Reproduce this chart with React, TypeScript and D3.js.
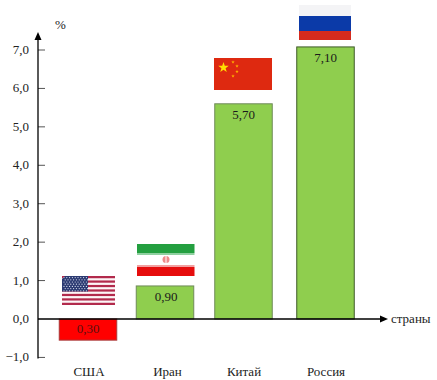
import React from "react";
import * as d3 from "d3";

const categories = ["США", "Иран", "Китай", "Россия"];
const barValues = [-0.55, 0.86, 5.6, 7.08];
const barLabels = ["0,30", "0,90", "5,70", "7,10"];
const tickValues = [-1, 0, 1, 2, 3, 4, 5, 6, 7];
const flagKinds = ["usa", "iran", "china", "russia"];

const W = 437, H = 380;
const y = d3.scaleLinear().domain([0, 7]).range([319, 50]);
const x = d3.scaleOrdinal<string, number>().domain(categories).range([88, 165, 243.5, 325.5]);
const barW = 57.5;
const axisX = 38;
const serif = "'Liberation Serif', serif";
const fmt = (v: number) => (v < 0 ? "−" : "") + Math.abs(v).toFixed(1).replace(".", ",");

function Star({ cx, cy, r, fill }: { cx: number; cy: number; r: number; fill: string }) {
  const pts = d3.range(10).map((i) => {
    const a = -Math.PI / 2 + (i * Math.PI) / 5;
    const rr = i % 2 ? r * 0.4 : r;
    return `${cx + rr * Math.cos(a)},${cy + rr * Math.sin(a)}`;
  });
  return <polygon points={pts.join(" ")} fill={fill} />;
}

function Usa({ cx }: { cx: number }) {
  const x0 = cx - 26, w = 53, top = 276, h = 29;
  const sh = h / 13;
  return (
    <g>
      <rect x={x0} y={top} width={w} height={h} fill="#fdf6f7" />
      {d3.range(0, 13, 2).map((i) => (
        <rect key={i} x={x0} y={top + i * sh} width={w} height={sh} fill="#b22a4c" />
      ))}
      <path d={`M${x0 + 3} ${top}H${x0 + 26}V${top + 7 * sh}H${x0}V${top + 3}Z`} fill="#2b3a72" />
      {d3.range(0, 7).map((r) =>
        d3.range(0, 9).map((c) => (
          <circle key={`${r}-${c}`} cx={x0 + 2 + c * 2.8 + (r % 2) * 1.2} cy={top + 1.6 + r * 2.2} r={0.6} fill="#dfe3f2" />
        ))
      )}
    </g>
  );
}

function Iran({ cx }: { cx: number }) {
  const x0 = cx - 28, w = 57.5;
  return (
    <g>
      <rect x={x0} y={244} width={w} height={9} fill="#239f40" />
      <rect x={x0} y={253} width={w} height={2} fill="#8fd0a0" />
      <rect x={x0} y={265} width={w} height={2} fill="#f2a0a0" />
      <rect x={x0} y={267} width={w} height={9} fill="#e60d0d" />
      <circle cx={cx + 1} cy={259.5} r={3.5} fill="#ef8a8a" />
      <rect x={cx + 0.5} y={256} width={1} height={7} fill="#fff" />
    </g>
  );
}

function China({ cx }: { cx: number }) {
  const x0 = cx - 29.5;
  return (
    <g>
      <rect x={x0} y={58} width={58} height={32} fill="#de2910" />
      <Star cx={x0 + 9.5} cy={67.5} r={5.5} fill="#ffde00" />
      <Star cx={x0 + 19} cy={62} r={1.8} fill="#ffb000" />
      <Star cx={x0 + 23} cy={66} r={1.8} fill="#ffb000" />
      <Star cx={x0 + 23} cy={71.5} r={1.8} fill="#ffb000" />
      <Star cx={x0 + 19} cy={76} r={1.8} fill="#ffb000" />
    </g>
  );
}

function Russia({ cx }: { cx: number }) {
  const x0 = cx - 26.5;
  return (
    <g>
      <rect x={x0} y={5} width={52} height={11} fill="#f4f4f6" />
      <rect x={x0} y={16} width={52} height={15} fill="#0b3aa8" />
      <rect x={x0} y={31} width={52} height={9} fill="#d52b1e" />
    </g>
  );
}

const flags: Record<string, React.FC<{ cx: number }>> = { usa: Usa, iran: Iran, china: China, russia: Russia };

export default function App() {
  const y0 = y(0);
  return (
    <svg width={W} height={H} style={{ position: "absolute", left: 0, top: 0, background: "#fff" }} fontFamily={serif}>
      {barValues.map((v, i) => {
        const cx = x(categories[i]);
        const neg = v < 0;
        return (
          <g key={categories[i]}>
            <rect
              x={cx - barW / 2}
              y={Math.min(y(v), y0)}
              width={barW}
              height={Math.abs(y(v) - y0)}
              fill={neg ? "#ff0000" : "#8fce4e"}
              stroke={neg ? "#a83a3a" : i === 3 ? "#3f5a2a" : "#6f8a5a"}
              strokeWidth={1}
            />
            <text
              x={cx + (i === 1 ? 1 : 0)}
              y={neg ? y0 + 14 : y(v) + 15}
              textAnchor="middle"
              fontSize={13}
              fill={neg ? "#5a1010" : "#1a1a1a"}
            >
              {barLabels[i]}
            </text>
            <text x={cx + [1, 2.5, 0.5, 0.5][i]} y={376} textAnchor="middle" fontSize={13} fill="#222">
              {categories[i]}
            </text>
            {React.createElement(flags[flagKinds[i]], { cx })}
          </g>
        );
      })}
      {tickValues.map((t) => (
        <g key={t}>
          {t !== 0 && <line x1={axisX} x2={axisX + 7} y1={y(t)} y2={y(t)} stroke="#555" strokeWidth={1} />}
          <text x={29} y={y(t) + 4} textAnchor="end" fontSize={13} fill="#222">
            {fmt(t)}
          </text>
        </g>
      ))}
      <line x1={axisX} x2={axisX} y1={y(7) - 12} y2={y(-1) + 1} stroke="#000" strokeWidth={1.3} />
      <line x1={axisX} x2={382} y1={y0} y2={y0} stroke="#000" strokeWidth={1.3} />
      <path d={`M${axisX} ${y(7) - 18}l-3.5 8h7Z`} fill="#000" />
      <path d={`M388 ${y0}l-8 -3.5v7Z`} fill="#000" />
      <text x={55} y={29} fontSize={13} fill="#222">%</text>
      <text x={391} y={y0 + 4} fontSize={13} fill="#222">страны</text>
    </svg>
  );
}
